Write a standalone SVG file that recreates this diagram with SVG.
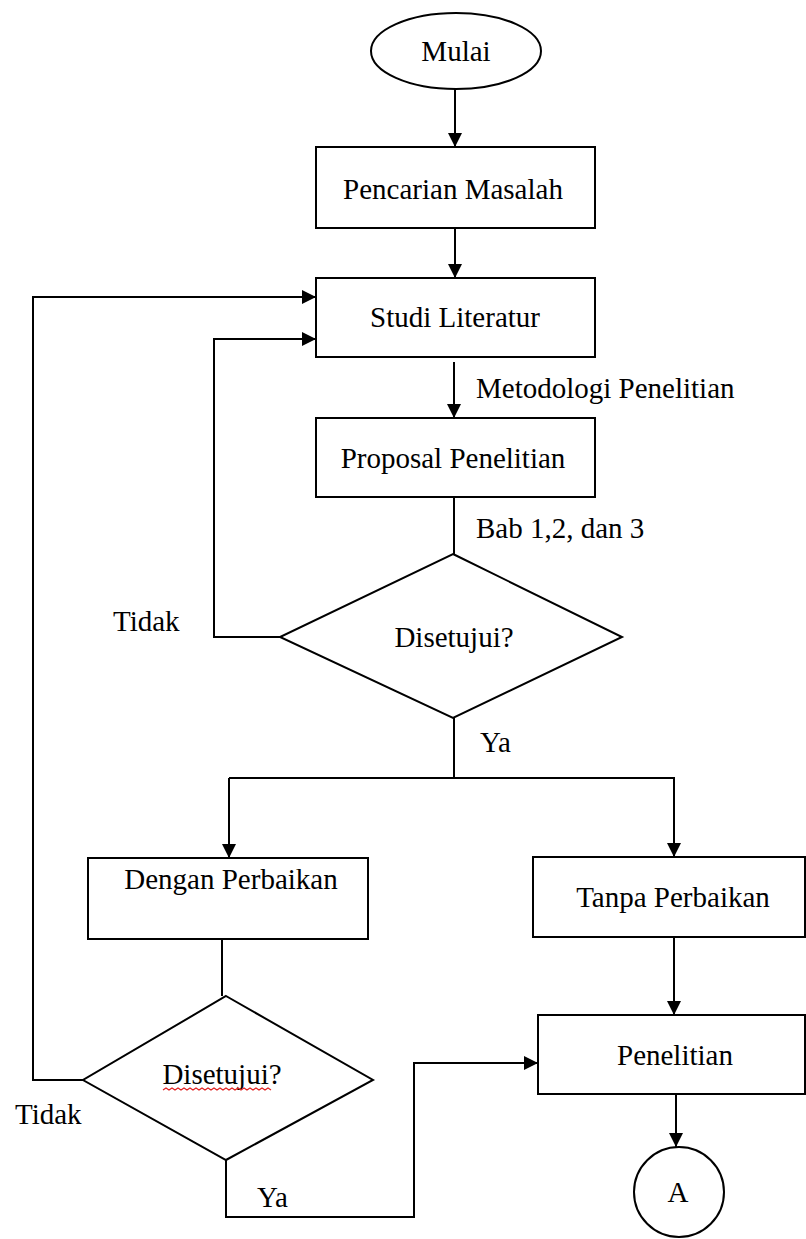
<svg xmlns="http://www.w3.org/2000/svg" width="806" height="1239" viewBox="0 0 806 1239">
  <style>
    .shape { fill: #ffffff; stroke: #000000; stroke-width: 2; }
    .line { fill: none; stroke: #000000; stroke-width: 2; }
    .arrow { fill: none; stroke: #000000; stroke-width: 2; marker-end: url(#head); }
    .lbl { font-family: "Liberation Serif", "DejaVu Serif", serif; font-size: 29px; fill: #000000; }
    .mid { text-anchor: middle; }
  </style>
  <defs>
    <marker id="head" markerUnits="userSpaceOnUse" markerWidth="14" markerHeight="14" viewBox="0 0 14 14" refX="14" refY="7" orient="auto">
      <path d="M0,0 L14,7 L0,14 Z" fill="#000000"/>
    </marker>
  </defs>

  <rect width="806" height="1239" fill="#ffffff"/>

  <!-- connectors -->
  <g id="connectors">
    <path class="arrow" d="M455,89 V147"/>
    <path class="arrow" d="M455,228 V278"/>
    <path class="arrow" d="M454,362 V418"/>
    <path class="line" d="M454,497 V554"/>
    <!-- first decision: Tidak back to Studi Literatur -->
    <path class="arrow" d="M280,637 H214 V339 H316"/>
    <!-- first decision: Ya splits into two branches -->
    <path class="line" d="M454,718 V778"/>
    <path class="arrow" d="M229,778 V858"/>
    <path class="arrow" d="M229,778 H674 V857"/>
    <path class="arrow" d="M674,937 V1015"/>
    <path class="arrow" d="M676,1094 V1147"/>
    <!-- second decision -->
    <path class="line" d="M222,939 V996"/>
    <path class="arrow" d="M83,1080 H33 V297 H316"/>
    <path class="arrow" d="M226,1160 V1217 H414 V1063 H538"/>
  </g>

  <g id="mulai">
    <ellipse class="shape" cx="456" cy="51" rx="85" ry="38"/>
    <text class="lbl mid" x="456" y="61">Mulai</text>
  </g>

  <g id="pencarian-masalah">
    <rect class="shape" x="316" y="147" width="279" height="81"/>
    <text class="lbl mid" x="453" y="199">Pencarian Masalah</text>
  </g>

  <g id="studi-literatur">
    <rect class="shape" x="316" y="278" width="279" height="79"/>
    <text class="lbl mid" x="455" y="327">Studi Literatur</text>
  </g>

  <g id="proposal-penelitian">
    <rect class="shape" x="316" y="418" width="279" height="79"/>
    <text class="lbl mid" x="453" y="468">Proposal Penelitian</text>
  </g>

  <g id="disetujui-1">
    <polygon class="shape" points="453,554 622,637 453,718 280,637"/>
    <text class="lbl mid" x="454" y="647">Disetujui?</text>
  </g>

  <g id="dengan-perbaikan">
    <rect class="shape" x="88" y="858" width="280" height="81"/>
    <text class="lbl mid" x="231" y="889">Dengan Perbaikan</text>
  </g>

  <g id="tanpa-perbaikan">
    <rect class="shape" x="533" y="857" width="272" height="80"/>
    <text class="lbl mid" x="673" y="907">Tanpa Perbaikan</text>
  </g>

  <g id="penelitian">
    <rect class="shape" x="538" y="1015" width="267" height="79"/>
    <text class="lbl mid" x="675" y="1065">Penelitian</text>
  </g>

  <g id="disetujui-2">
    <polygon class="shape" points="226,996 373,1080 226,1160 83,1080"/>
    <text class="lbl mid" x="222" y="1084">Disetujui?</text>
    <!-- spell-check squiggle under the word -->
    <path d="M163,1090 l3,-2 l3,2 l3,-2 l3,2 l3,-2 l3,2 l3,-2 l3,2 l3,-2 l3,2 l3,-2 l3,2 l3,-2 l3,2 l3,-2 l3,2 l3,-2 l3,2 l3,-2 l3,2 l3,-2 l3,2 l3,-2 l3,2 l3,-2 l3,2 l3,-2 l3,2 l3,-2 l3,2 l3,-2 l3,2 l3,-2 l3,2 l3,-2 l3,2" fill="none" stroke="#e02020" stroke-width="1.2"/>
  </g>

  <g id="konektor-a">
    <circle class="shape" cx="679" cy="1192" r="45"/>
    <text class="lbl mid" x="678" y="1202">A</text>
  </g>

  <!-- connector labels -->
  <g id="labels">
    <text class="lbl" x="476" y="398">Metodologi Penelitian</text>
    <text class="lbl" x="476" y="538">Bab 1,2, dan 3</text>
    <text class="lbl" x="113" y="631">Tidak</text>
    <text class="lbl" x="480" y="752">Ya</text>
    <text class="lbl" x="15" y="1124">Tidak</text>
    <text class="lbl" x="257" y="1207">Ya</text>
  </g>
</svg>
